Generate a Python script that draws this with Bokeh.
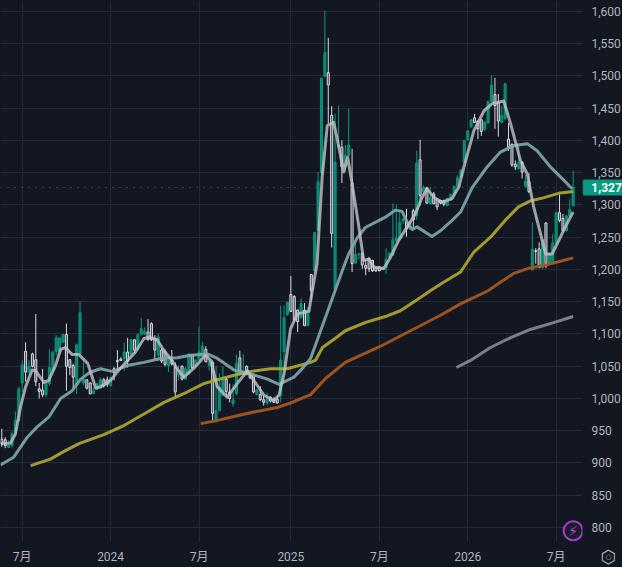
from bokeh.plotting import figure
from bokeh.models import FixedTicker, LinearAxis, Range1d, NumeralTickFormatter, Span, Label, ColumnDataSource
from bokeh.embed import file_html
from bokeh.resources import INLINE

first_bar = -6
opens = [937,936,924,927,945,966,1024,1073,1042,1069,1060,1015,1013,1006,1023,1043,1073,1073,1087,1099,
 1060,1051,1020,1069,1024,1029,1024,1008,1014,1016,1029,1029,1020,1046,1059,1061,1062,1072,1069,1091,
 1077,1099,1100,1103,1116,1092,1067,1075,1072,1051,1060,1048,1036,1050,1030,1038,1068,1051,1060,1065,
 1076,1051,1056,965,981,1005,1030,1010,992,1008,1063,1038,1050,1038,1036,1006,1006,998,993,1002,
 999,999,1005,1073,1130,1161,1158,1137,1126,1137,1113,1192,1198,1261,1350,1499,1505,1439,1170,1390,
 1389,1359,1377,1333,1210,1223,1225,1206,1217,1214,1203,1204,1201,1203,1218,1222,1245,1248,1275,1274,
 1263,1291,1284,1370,1320,1327,1302,1317,1308,1307,1307,1299,1308,1317,1329,1343,1366,1401,1421,1435,
 1430,1432,1417,1427,1460,1471,1458,1428,1434,1402,1394,1363,1356,1366,1329,1336,1200,1229,1232,1203,
 1272,1210,1211,1241,1288,1279,1260,1283,1299]
highs = [953,940,935,949,980,1018,1059,1087,1059,1071,1131,1024,1046,1028,1076,1074,1098,1094,1100,1116,
 1061,1054,1085,1150,1057,1030,1025,1017,1024,1033,1032,1034,1034,1049,1075,1064,1087,1094,1092,1092,
 1100,1125,1110,1123,1118,1098,1100,1078,1076,1060,1075,1056,1051,1051,1049,1070,1069,1062,1111,1088,
 1081,1059,1059,1050,1039,1050,1033,1023,1022,1068,1074,1069,1051,1039,1038,1015,1019,1005,1009,1003,
 1002,1005,1144,1144,1150,1190,1160,1138,1155,1148,1142,1192,1258,1351,1498,1601,1559,1453,1441,1454,
 1400,1393,1449,1387,1241,1226,1226,1216,1219,1215,1204,1205,1205,1233,1227,1302,1300,1292,1280,1294,
 1276,1294,1384,1401,1330,1328,1328,1320,1310,1308,1308,1311,1318,1330,1346,1356,1401,1416,1433,1441,
 1431,1433,1431,1462,1501,1497,1472,1454,1488,1427,1395,1369,1394,1368,1346,1349,1273,1233,1242,1247,
 1273,1226,1255,1289,1316,1286,1284,1309,1353]
lows = [925,923,923,924,943,964,1010,1026,1038,1048,1019,1000,1002,1002,1020,1041,1067,1073,1086,1012,
 1036,1016,1007,1068,1020,1014,1007,1007,1013,1015,1017,1018,1018,1028,1043,1058,1043,1048,1064,1070,
 1075,1098,1098,1090,1089,1060,1058,1055,1050,1041,1051,1002,1029,1028,1029,1037,1045,1050,1059,1063,
 1056,1043,966,963,980,1003,1002,994,987,1005,1036,1036,1036,1030,1008,1005,996,989,989,994,
 993,992,994,1049,1128,1134,1119,1103,1124,1112,1112,1152,1197,1260,1348,1499,1426,1234,1165,1388,
 1334,1351,1376,1196,1209,1215,1201,1191,1196,1196,1196,1197,1199,1193,1217,1221,1242,1246,1270,1251,
 1261,1263,1277,1299,1315,1302,1301,1301,1292,1301,1298,1299,1307,1312,1328,1342,1365,1400,1420,1427,
 1402,1407,1415,1426,1459,1418,1406,1427,1432,1384,1359,1354,1355,1341,1327,1318,1198,1209,1202,1201,
 1202,1209,1210,1240,1273,1259,1259,1281,1297]
closes = [930,927,928,945,966,1015,1052,1041,1050,1050,1026,1011,1006,1025,1048,1072,1094,1094,1099,1050,
 1048,1033,1083,1133,1030,1016,1007,1012,1023,1029,1020,1022,1032,1040,1057,1059,1072,1058,1091,1075,
 1099,1108,1104,1091,1091,1075,1095,1058,1053,1059,1054,1010,1043,1030,1046,1069,1048,1059,1072,1081,
 1057,1057,977,981,1018,1030,1011,1000,998,1054,1038,1043,1037,1032,1010,1013,998,994,999,996,
 994,993,1059,1125,1149,1135,1122,1119,1147,1113,1137,1167,1257,1336,1496,1536,1486,1256,1366,1393,
 1359,1377,1393,1209,1223,1224,1207,1202,1201,1198,1198,1198,1203,1216,1225,1246,1249,1273,1278,1263,
 1272,1277,1365,1315,1327,1303,1311,1302,1297,1303,1301,1310,1316,1329,1342,1354,1400,1415,1432,1428,
 1418,1414,1428,1460,1486,1454,1430,1439,1488,1390,1362,1359,1366,1351,1337,1321,1231,1228,1203,1246,
 1209,1224,1241,1288,1276,1260,1283,1293,1327]

ma_short_x = [-6.4,-3.4,-2,-0.5,1,2.9,3.9,6.4,7.8,9.8,11.3,12.7,14.7,16.7,19.3,20.6,21.6,23,26,28.9,33.3,35.8,37.3,39.7,41.7,43.6,45.6,47.5,50.5,53.9,55.4,57.4,60.3,63.2,66.2,68.1,71.1,74,75.5,77,78.9,80.9,84.3,85.3,86.7,88.2,89.7,91.6,93.1,94.5,95.7,97,99,100.4,101.9,103.4,106.3,108.3,110.7,113.2,115.6,117.6,119.1,121,123.5,126.4,128.4,129.9,132.8,135.8,138.2,141.6,143.6,146.5,148.5,150.4,152.9,153.9,155.8,157.8,159.7,162]
ma_short_y = [930,931,945,987,1018,1044,1043,1025,1028,1051,1076,1079,1068,1068,1054,1033,1016,1018,1028,1047,1072,1093,1095,1091,1074,1062,1046,1033,1047,1067,1059,1018,1002,1023,1043,1028,1005,997,1005,1038,1108,1131,1135,1167,1209,1343,1423,1428,1390,1351,1374,1333,1266,1214,1216,1204,1201,1219,1245,1266,1286,1312,1325,1312,1304,1310,1328,1359,1415,1446,1457,1461,1426,1369,1348,1297,1245,1224,1224,1245,1266,1289]
ma_mid_x = [-6.4,-2.5,1.5,4.4,7.8,11.3,14.7,17.2,20.1,23,26.5,30.9,35.8,40.7,45.6,49.5,54.4,57.4,62.3,67.2,72.1,75.5,79.9,82.8,84.8,88.3,92,94.1,96,98.5,100.9,106.8,109.7,111.7,113.7,114.7,116.1,120.5,123,126.4,128.9,132.3,136.7,140.6,144.6,148.5,151.4,155.3,159.3,161.7]
ma_mid_y = [897,909,940,956,971,1000,1012,1030,1041,1046,1042,1051,1056,1062,1063,1067,1069,1062,1044,1038,1030,1022,1033,1049,1062,1113,1167,1198,1224,1249,1265,1281,1292,1290,1268,1262,1266,1251,1260,1276,1289,1327,1359,1382,1392,1395,1384,1359,1338,1325]
ma_long_x = [2.5,8.3,12.3,16.7,24,29.9,35.8,41.7,48.5,53.4,57.4,62.3,67.2,73,77.9,84.8,86.2,88.3,92,95,101,106.8,111.2,117,120,123.9,128.9,132.8,137.7,142,145.9,149.3,153.2,157.7,162]
ma_long_y = [896,906,918,930,944,958,976,994,1010,1023,1029,1036,1042,1046,1046,1056,1059,1079,1093,1105,1118,1127,1136,1156,1167,1180,1196,1227,1250,1276,1297,1306,1311,1318,1321]
ma_100_x = [52.5,57.4,62.3,68.1,75,78.9,84.8,89.2,95,105.4,114.2,123,129,137,140.6,144.6,149,153.2,157.7,162]
ma_100_y = [961,966,972,979,986,993,1006,1031,1056,1081,1105,1129,1147,1167,1180,1194,1202,1206,1212,1218]
ma_200_x = [127.7,131.8,137.7,143.5,149.4,155.3,162]
ma_200_y = [1048,1059,1079,1094,1107,1116,1127]

tick_bars = [0, 26, 52, 79, 105, 131, 157]
tick_labels = ["7月", "2024", "7月", "2025", "7月", "2026", "7月"]
price_ticks = list(range(800, 1601, 50))
last_price = closes[-1]

BG = "#131722"
GRID = "#262a36"
TEXT = "#b2b5be"
GREEN = "#089981"
WHITE = "#d8dae2"
FONT = "Roboto, 'Noto Sans CJK JP'"

p = figure(frame_width=582, frame_height=541, output_backend="svg", toolbar_location=None,
           x_range=Range1d(-6.38, 164.75), y_range=Range1d(778.3, 1616.9),
           x_axis_location=None, y_axis_location=None,
           min_border_left=0, min_border_top=0, min_border_right=0, min_border_bottom=0,
           background_fill_color=BG, border_fill_color=BG, outline_line_color=None)
p.styles = {"position": "fixed", "left": "0px", "top": "0px", "background-color": BG}

xaxis = LinearAxis(ticker=FixedTicker(ticks=tick_bars),
                   major_label_overrides=dict(zip(tick_bars, tick_labels)))
xaxis.axis_line_color = None
xaxis.major_tick_line_color = None
xaxis.minor_tick_line_color = None
xaxis.major_tick_out = 0
xaxis.major_tick_in = 0
xaxis.minor_tick_out = 0
xaxis.major_label_text_color = TEXT
xaxis.major_label_text_font = FONT
xaxis.major_label_text_font_size = "12px"
xaxis.major_label_standoff = 8
p.add_layout(xaxis, "below")

yaxis = LinearAxis(ticker=FixedTicker(ticks=price_ticks), formatter=NumeralTickFormatter(format="0,0"))
yaxis.axis_line_color = None
yaxis.major_tick_line_color = None
yaxis.minor_tick_line_color = None
yaxis.major_tick_out = 0
yaxis.major_tick_in = 0
yaxis.minor_tick_out = 0
yaxis.major_label_text_color = TEXT
yaxis.major_label_text_font = FONT
yaxis.major_label_text_font_size = "12px"
yaxis.major_label_standoff = 9
p.add_layout(yaxis, "right")

p.xgrid.ticker = FixedTicker(ticks=tick_bars)
p.ygrid.ticker = FixedTicker(ticks=price_ticks)
p.xgrid.grid_line_color = GRID
p.ygrid.grid_line_color = GRID
p.xgrid.grid_line_width = 1
p.ygrid.grid_line_width = 1

p.add_layout(Span(location=last_price, dimension="width", line_color=GREEN, line_alpha=0.9,
                  line_dash="1 6", line_width=1))

bars = list(range(first_bar, first_bar + len(closes)))
up = [c >= o for o, c in zip(opens, closes)]
src = ColumnDataSource(dict(
    x=bars, high=highs, low=lows,
    top=[max(o, c) for o, c in zip(opens, closes)],
    bottom=[min(o, c) for o, c in zip(opens, closes)],
    color=[GREEN if u else WHITE for u in up],
    fill=["#0a7f70" if u else "#4a4e5a" for u in up]))
p.segment("x", "high", "x", "low", source=src, line_color="color", line_width=1)
p.vbar("x", 0.6, "top", "bottom", source=src, line_color="color", fill_color="fill", line_width=1)

p.line(ma_200_x, ma_200_y, line_color="#85868c", line_width=3, line_alpha=0.95, line_join="round")
p.line(ma_100_x, ma_100_y, line_color="#a4561e", line_width=3, line_alpha=0.95, line_join="round")
p.line(ma_long_x, ma_long_y, line_color="#b3a732", line_width=3, line_alpha=0.9, line_join="round")
p.line(ma_mid_x, ma_mid_y, line_color="#7fa8ad", line_width=3, line_alpha=0.9, line_join="round")
p.line(ma_short_x, ma_short_y, line_color="#c2c3c6", line_width=3, line_alpha=0.8, line_join="round")

p.add_layout(Label(x=165.0, y=last_price, text=f"{last_price:,}",
                   text_color="#ffffff", text_font=FONT, text_font_size="12px", text_font_style="bold",
                   text_baseline="middle", text_align="left",
                   background_fill_color=GREEN, border_line_color=GREEN,
                   padding=(8, 3, 3, 3)), "below")

p.scatter([162], [795], marker="circle", size=19, fill_color="#1c1c2c", line_color="#a23cc4", line_width=2)
p.add_layout(Label(x=162, y=795, text="⚡", text_color="#b04bd2", text_font="DejaVu Sans",
                   text_font_size="14px", text_align="center", text_baseline="middle"))
p.add_layout(Label(x=172.4, y=755, text="⬡", text_color=TEXT, text_font="DejaVu Sans",
                   text_font_size="18px", text_align="center", text_baseline="middle"), "below")
p.add_layout(Label(x=172.4, y=755, text="○", text_color=TEXT, text_font="DejaVu Sans",
                   text_font_size="7px", text_align="center", text_baseline="middle"), "below")

open("out.html", "w").write(file_html(p, INLINE))
